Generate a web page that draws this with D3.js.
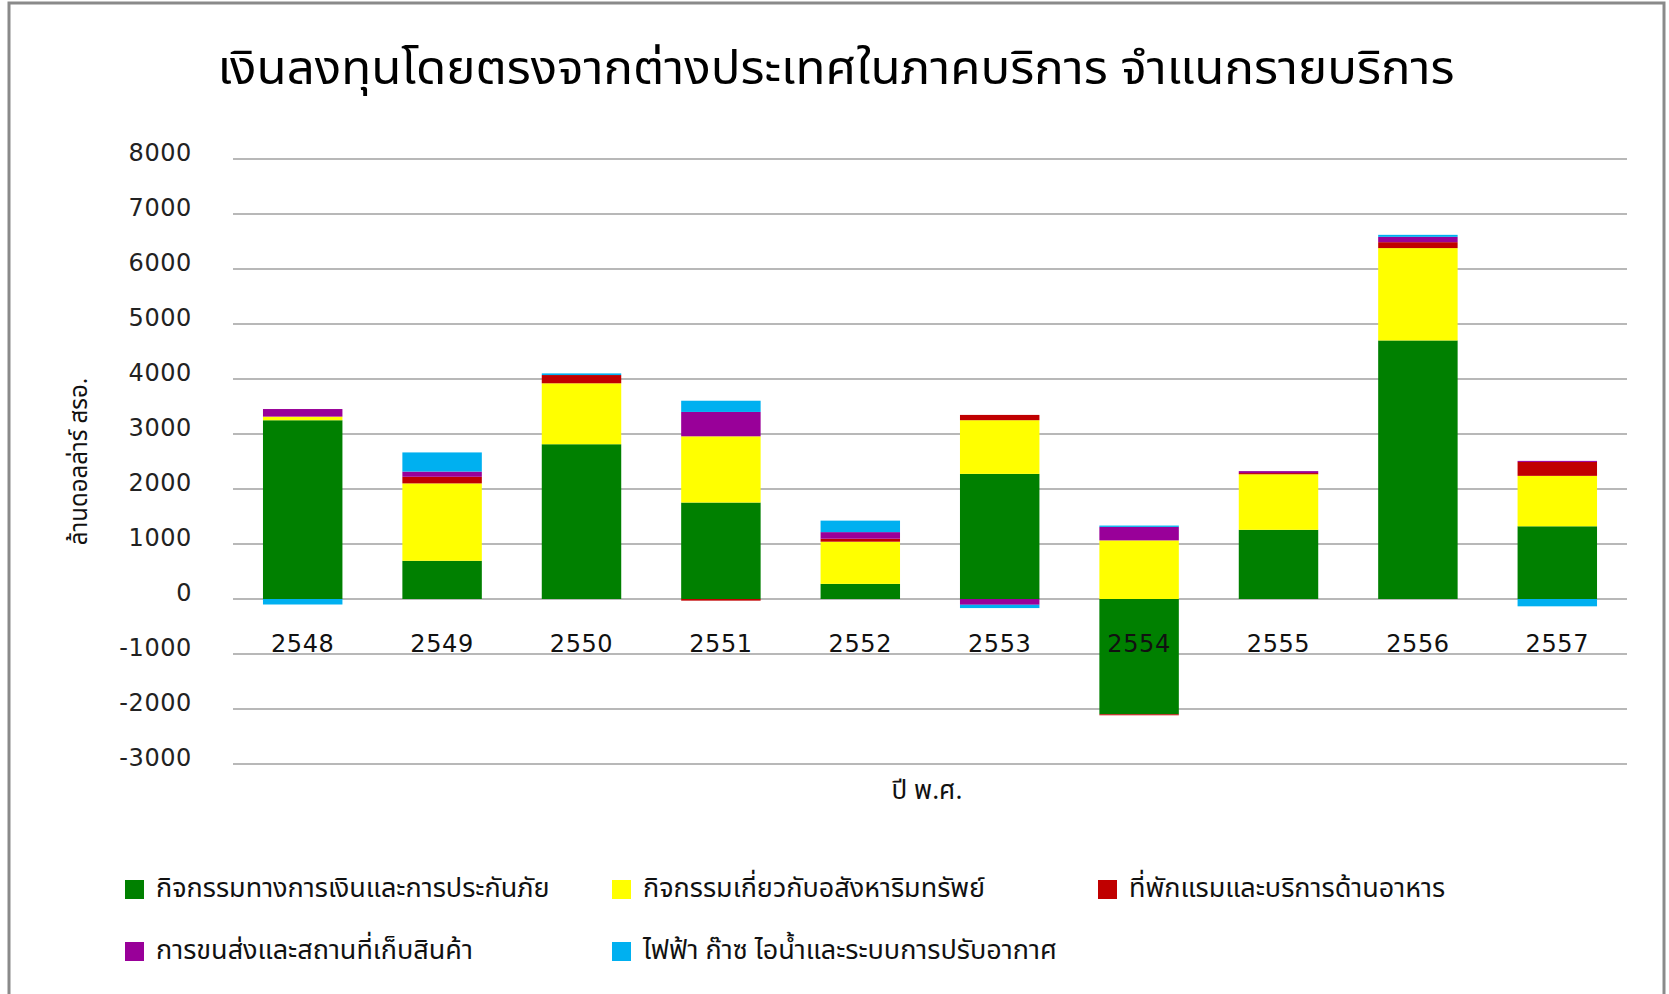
<!DOCTYPE html>
<html>
<head>
<meta charset="utf-8">
<script src="https://cdn.jsdelivr.net/npm/d3@7"></script>
<style>
  html, body { margin: 0; padding: 0; background: #fff; }
  svg { display: block; }
  .thai { font-family: "Noto Sans Thai", "Noto Sans", "DejaVu Sans", sans-serif; }
  .num { font-family: "DejaVu Sans", Verdana, sans-serif; }
</style>
</head>
<body>
<svg id="chart" width="1669" height="994"></svg>
<script>
// ---- Data ----
const years = ["2548", "2549", "2550", "2551", "2552", "2553", "2554", "2555", "2556", "2557"];
const finance    = [3250, 695, 2814, 1754, 275, 2275, -2096, 1258, 4701, 1322];
const realEstate = [66, 1407, 1108, 1204, 767, 976, 1066, 1010, 1679, 917];
const hotel      = [0, 120, 150, -30, 54, 96, -18, 22, 108, 253];
const transport  = [138, 95, 0, 443, 120, -105, 245, 35, 97, 19];
const utilities  = [-100, 348, 30, 204, 209, -60, 24, 0, 36, -133];
const seriesNames = [
  "กิจกรรมทางการเงินและการประกันภัย",
  "กิจกรรมเกี่ยวกับอสังหาริมทรัพย์",
  "ที่พักแรมและบริการด้านอาหาร",
  "การขนส่งและสถานที่เก็บสินค้า",
  "ไฟฟ้า ก๊าซ ไอน้ำและระบบการปรับอากาศ"
];
const yTicks = [-3000, -2000, -1000, 0, 1000, 2000, 3000, 4000, 5000, 6000, 7000, 8000];
const titleText = "เงินลงทุนโดยตรงจากต่างประเทศในภาคบริการ จำแนกรายบริการ";
const yAxisTitle = "ล้านดอลล่าร์ สรอ.";
const xAxisTitle = "ปี พ.ศ.";

const colors = ["#008000", "#FFFF00", "#C00000", "#990099", "#00B0F0"];
const seriesArrays = [finance, realEstate, hotel, transport, utilities];

// ---- Build table ----
const keys = seriesNames;
const table = years.map((y, i) => {
  const row = { year: y };
  keys.forEach((k, j) => row[k] = seriesArrays[j][i]);
  return row;
});

const svg = d3.select("#chart");

// chart frame
svg.append("rect")
  .attr("x", 9).attr("y", 3).attr("width", 1655).attr("height", 1010)
  .attr("fill", "#fff").attr("stroke", "#8a8a8a").attr("stroke-width", 3);

const plot = { left: 233, right: 1627, top: 159, bottom: 764 };

const x = d3.scaleBand().domain(years).range([plot.left, plot.right])
  .paddingInner(0.43).paddingOuter(0.215);
const y = d3.scaleLinear().domain([-3000, 8000]).range([plot.bottom, plot.top]);

// gridlines
svg.append("g")
  .selectAll("line").data(yTicks).join("line")
  .attr("x1", plot.left).attr("x2", plot.right)
  .attr("y1", d => y(d)).attr("y2", d => y(d))
  .attr("stroke", "#a0a0a0").attr("stroke-width", 1.5);

// y axis labels
const yAxis = d3.axisLeft(y).tickValues(yTicks).tickSize(0).tickPadding(0).tickFormat(d => String(d));
const yg = svg.append("g").attr("transform", `translate(${plot.left - 41},0)`).call(yAxis);
yg.select(".domain").remove();
yg.selectAll("text").attr("class", "num").attr("font-size", 24).attr("fill", "#222")
  .attr("letter-spacing", "0.6px").attr("dy", "0.05em");

// stacked bars
const stack = d3.stack().keys(keys).offset(d3.stackOffsetDiverging);
const stacked = stack(table);
svg.append("g").selectAll("g").data(stacked).join("g")
  .attr("fill", (d, i) => colors[i])
  .selectAll("rect").data(d => d).join("rect")
  .attr("x", d => x(d.data.year))
  .attr("width", x.bandwidth())
  .attr("y", d => y(Math.max(d[0], d[1])))
  .attr("height", d => Math.abs(y(d[0]) - y(d[1])));

// x axis labels (next to zero line)
const xAxis = d3.axisBottom(x).tickSize(0).tickPadding(0);
const xg = svg.append("g").attr("transform", `translate(0,${y(0) + 36})`).call(xAxis);
xg.select(".domain").remove();
xg.selectAll("text").attr("class", "num").attr("font-size", 24).attr("fill", "#111")
  .attr("letter-spacing", "0.6px");

// title
svg.append("text").attr("class", "thai")
  .attr("x", 836).attr("y", 84).attr("text-anchor", "middle")
  .attr("font-size", 47).attr("fill", "#000")
  .attr("textLength", 1237).attr("lengthAdjust", "spacingAndGlyphs")
  .text(titleText);

// axis titles
svg.append("text").attr("class", "thai")
  .attr("transform", `translate(87,${(plot.top + plot.bottom) / 2}) rotate(-90)`)
  .attr("text-anchor", "middle").attr("font-size", 24).attr("fill", "#111").text(yAxisTitle);
svg.append("text").attr("class", "thai")
  .attr("x", 927).attr("y", 799).attr("text-anchor", "middle")
  .attr("font-size", 26).attr("fill", "#111").text(xAxisTitle);

// legend
const legendPos = [[125, 889], [612, 889], [1098, 889], [125, 951], [612, 951]];
const lg = svg.append("g").selectAll("g").data(seriesNames).join("g")
  .attr("transform", (d, i) => `translate(${legendPos[i][0]},${legendPos[i][1]})`);
lg.append("rect").attr("x", 0).attr("y", -9).attr("width", 19).attr("height", 19)
  .attr("fill", (d, i) => colors[i]);
lg.append("text").attr("class", "thai").attr("x", 31).attr("y", 8)
  .attr("font-size", 27).attr("fill", "#111").text(d => d);
</script>
</body>
</html>
